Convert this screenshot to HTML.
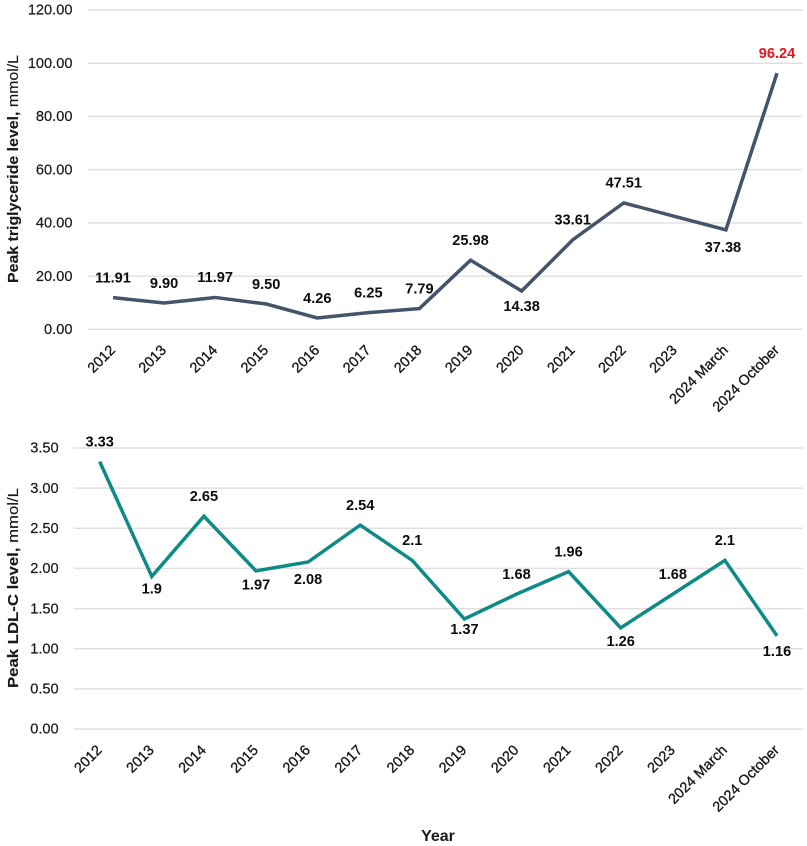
<!DOCTYPE html>
<html lang="en">
<head>
<meta charset="utf-8">
<title>Peak triglyceride and LDL-C levels by year</title>
<style>
  html, body { margin: 0; padding: 0; background: #fff; }
  svg { display: block; }
  text { font-family: "Liberation Sans", sans-serif; fill: #1a1a1a; }
</style>
</head>
<body>
<svg id="chart" xmlns="http://www.w3.org/2000/svg" width="807" height="846" viewBox="0 0 807 846">
  <rect width="807" height="846" fill="#ffffff"/>
  <text transform="translate(18,169) rotate(-90)" text-anchor="middle" font-size="15" textLength="228" lengthAdjust="spacingAndGlyphs" stroke="#1a1a1a" stroke-width="0.15"><tspan font-weight="bold">Peak triglyceride level,</tspan> mmol/L</text>
  <text transform="translate(18,588) rotate(-90)" text-anchor="middle" font-size="15" textLength="200" lengthAdjust="spacingAndGlyphs" stroke="#1a1a1a" stroke-width="0.15"><tspan font-weight="bold">Peak LDL-C level,</tspan> mmol/L</text>
  <text x="438" y="841" text-anchor="middle" font-size="16" font-weight="bold">Year</text>
</svg>
<script>
const categories = ["2012","2013","2014","2015","2016","2017","2018","2019","2020","2021","2022","2023","2024 March","2024 October"];

const triglycerideValues = [11.91, 9.90, 11.97, 9.50, 4.26, 6.25, 7.79, 25.98, 14.38, 33.61, 47.51, 42.4, 37.38, 96.24];
const triglycerideLabels = ["11.91","9.90","11.97","9.50","4.26","6.25","7.79","25.98","14.38","33.61","47.51","","37.38","96.24"];
const triglycerideTicks = [0, 20, 40, 60, 80, 100, 120];
const triglycerideTickLabels = ["0.00","20.00","40.00","60.00","80.00","100.00","120.00"];

const ldlValues = [3.33, 1.9, 2.65, 1.97, 2.08, 2.54, 2.1, 1.37, 1.68, 1.96, 1.26, 1.68, 2.1, 1.16];
const ldlLabels = ["3.33","1.9","2.65","1.97","2.08","2.54","2.1","1.37","1.68","1.96","1.26","1.68","2.1","1.16"];
const ldlTicks = [0, 0.5, 1, 1.5, 2, 2.5, 3, 3.5];
const ldlTickLabels = ["0.00","0.50","1.00","1.50","2.00","2.50","3.00","3.50"];

const svgNS = "http://www.w3.org/2000/svg";
const root = document.getElementById("chart");

function makeText(parent, x, y, content, size, anchor) {
  const t = document.createElementNS(svgNS, "text");
  t.setAttribute("x", x);
  t.setAttribute("y", y);
  t.setAttribute("font-size", size);
  t.setAttribute("text-anchor", anchor);
  t.textContent = content;
  parent.appendChild(t);
  return t;
}

function drawChart(cfg) {
  const g = document.createElementNS(svgNS, "g");
  
  
  root.appendChild(g);

  const step = (cfg.xLast - cfg.xFirst) / (categories.length - 1);
  const xScale = i => cfg.xFirst + i * step;
  const yScale = v => cfg.yZero - (v - cfg.ticks[0]) / (cfg.ticks[cfg.ticks.length - 1] - cfg.ticks[0]) * (cfg.yZero - cfg.yTop);

  cfg.ticks.forEach((tick, i) => {
    const line = document.createElementNS(svgNS, "line");
    
    
    line.setAttribute("x1", cfg.xFirst - step / 2);
    line.setAttribute("x2", cfg.xLast + step / 2);
    line.setAttribute("y1", yScale(tick));
    line.setAttribute("y2", yScale(tick));
    line.setAttribute("stroke", "#e0e0e0");
    line.setAttribute("stroke-width", "1.5");
    g.appendChild(line);

    const label = makeText(g, cfg.xFirst - step / 2 - 15, yScale(tick) + 4.7, cfg.tickLabels[i], 14.6, "end");
    label.setAttribute("stroke", "#1a1a1a");
    label.setAttribute("stroke-width", "0.2");
    
    
  });

  categories.forEach((cat, i) => {
    const x = xScale(i) + 3;
    const label = makeText(g, x, cfg.xLabelY, cat, 14.4, "end");
    label.setAttribute("transform", "rotate(-45 " + x + " " + cfg.xLabelY + ")");
    label.setAttribute("stroke", "#1a1a1a");
    label.setAttribute("stroke-width", "0.35");
    
    
  });

  const path = document.createElementNS(svgNS, "polyline");
  
  
  path.setAttribute("points", cfg.values.map((v, i) => xScale(i) + "," + yScale(v)).join(" "));
  path.setAttribute("fill", "none");
  path.setAttribute("stroke", cfg.color);
  path.setAttribute("stroke-width", "3.5");
  path.setAttribute("stroke-linejoin", "miter");
  g.appendChild(path);

  cfg.labels.forEach((text, i) => {
    if (!text) return;
    const below = cfg.below[i];
    const x = xScale(i) + (cfg.nudgeX[i] || 0);
    const y = yScale(cfg.values[i]) + (below ? below : -20.4) + 5.2;
    const label = makeText(g, x, y, text, 14.6, "middle");
    label.setAttribute("font-weight", "bold");
    
    
    if (cfg.highlight === i) label.style.fill = "#e8141c";
    else label.style.fill = "#0d0d0d";
  });
}

drawChart({
  name: "triglyceride-chart", seriesName: "triglyceride-line",
  values: triglycerideValues, labels: triglycerideLabels,
  ticks: triglycerideTicks, tickLabels: triglycerideTickLabels,
  xFirst: 113, xLast: 777, yZero: 329.3, yTop: 10, xLabelY: 351,
  color: "#44546a", highlight: 13,
  below: {8: 15, 12: 17}, nudgeX: {12: -3}
});

drawChart({
  name: "ldl-chart", seriesName: "ldl-line",
  values: ldlValues, labels: ldlLabels,
  ticks: ldlTicks, tickLabels: ldlTickLabels,
  xFirst: 99.7, xLast: 777, yZero: 729, yTop: 448, xLabelY: 751,
  color: "#0f8a87", highlight: -1,
  below: {1: 12, 3: 13.5, 4: 16.7, 7: 10, 10: 13, 13: 15}, nudgeX: {}
});
</script>
</body>
</html>
